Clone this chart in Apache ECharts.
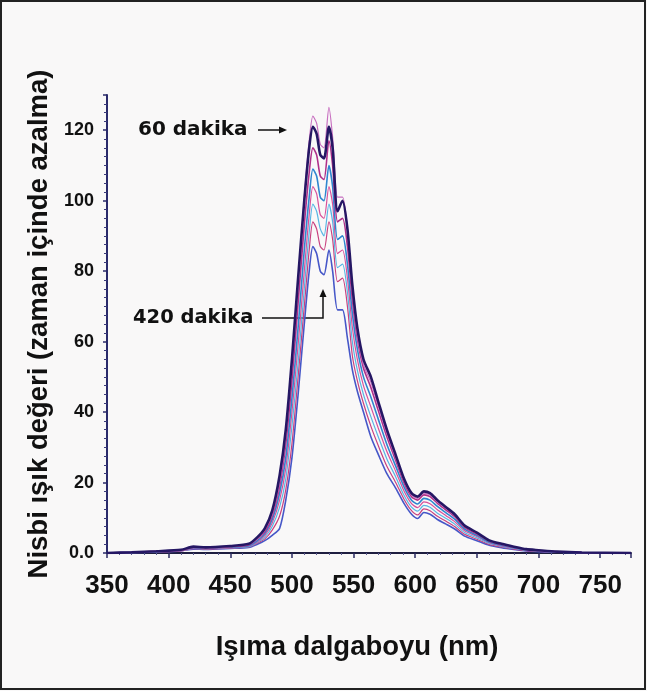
<!DOCTYPE html>
<html><head><meta charset="utf-8">
<script src="https://cdn.jsdelivr.net/npm/echarts@6/dist/echarts.min.js"></script>
<style>html,body{margin:0;padding:0;background:#f9f8f8;}#c{width:647px;height:691px;}</style>
</head><body><div id="c"></div>
<script>
// Wavelengths (nm)
const wavelengths = [350,370,390,410,420,430,450,465,472,478,484,490,495,500,505,510,514,517,520,523,526,530,533,537,541,545,549,553,558,564,570,577,584,591,597,602,607,612,618,625,632,640,650,660,670,680,690,700,715,735,775];

const s60  = [0,0.2,0.5,0.9,1.7,1.5,1.9,2.5, 4,6.5,11,20,33,53,77,101,117,124, 122,116,115,126.5,118,101,101,92, 74,62,53.5,48.5,41.7,34,27.2,20.4,16.5,15.5,17,16.5,14.6,12.6,10.7,7.6,5.6,3.5,2.5,1.7,1.05,0.75,0.4,0.15,0];
const s90  = [0,0.2,0.5,0.9,1.8,1.6,2.0,2.6, 4.5,7,12,22,35,55,78,100,115,121, 119,113,112,121,115,97,100,92, 76,64,55,50,43,35,28,21,17,16,17.5,17,15,13,11,7.8,5.8,3.6,2.6,1.8,1.1,0.8,0.4,0.15,0];
const s120 = [0,0.2,0.5,0.8,1.6,1.5,1.8,2.3, 4,6,10.5,19,31,49,71,93,108,115, 113,107,106,117,110,94,95,87, 72,61,52.5,47,40.5,33,26.4,19.8,16,15,16.5,16,14.1,12.2,10.3,7.3,5.4,3.4,2.4,1.7,1.0,0.7,0.37,0.15,0];
const s180 = [0,0.2,0.4,0.8,1.5,1.4,1.7,2.1, 3.5,5.5,9.5,17,27,44,64,86,101,109, 107,101,100,110,104,89,90,82, 68,58,50,44.3,38,30.8,24.8,18.7,15,13.9,15.5,15,13.2,11.4,9.6,6.8,5,3.1,2.2,1.5,0.9,0.65,0.33,0.13,0];
const s240 = [0,0.2,0.4,0.7,1.4,1.3,1.6,2.0, 3.2,5,8.5,15,24,40,59,80,96,104, 102,96,95,104,99,85,86,78, 64,55,47.5,41.5,35.5,28.8,23.3,17.5,14,12.9,14.5,14,12.3,10.6,8.9,6.3,4.7,2.9,2.0,1.4,0.85,0.6,0.3,0.12,0];
const s300 = [0,0.1,0.4,0.7,1.3,1.2,1.5,1.8, 3,4.5,7.5,13,21,36,54,75,91,99, 97,92,90,99,94,81,82,74, 60,52,45,38.7,33,26.7,21.7,16.3,13,11.9,13.5,13,11.3,9.8,8.2,5.8,4.3,2.7,1.9,1.3,0.8,0.5,0.27,0.11,0];
const s360 = [0,0.1,0.3,0.6,1.2,1.1,1.4,1.7, 2.8,4,6.5,10.5,18,31,50,70,86,94, 92,87,86,94,89,77,78,70, 56,49,42.5,36,30.5,24.6,20.1,15.2,12,10.8,12.5,12,10.4,9,7.5,5.3,3.9,2.4,1.7,1.1,0.7,0.45,0.23,0.1,0];
const s420 = [0,0.1,0.3,0.6,1.1,1.0,1.3,1.6, 2.5,3.5,5,7,15,27,45,65,80,87, 85,80,79,86,80,69,69,61, 52,46,40,33,28,22.5,18.5,14,11,9.8,11.5,11,9.5,8.2,6.8,4.8,3.5,2.2,1.5,1.0,0.6,0.4,0.2,0.1,0];

const xTicks = [350,400,450,500,550,600,650,700,750];
const yTicks = [0,20,40,60,80,100,120];

const seriesDefs = [
  {name:'420 dakika', data:s420, color:'#4657c8', width:1.6},
  {name:'360 dakika', data:s360, color:'#c8407f', width:1.2},
  {name:'300 dakika', data:s300, color:'#58b6e4', width:1.2},
  {name:'240 dakika', data:s240, color:'#d8509a', width:1.2},
  {name:'180 dakika', data:s180, color:'#2f86cf', width:1.6},
  {name:'120 dakika', data:s120, color:'#b0308a', width:1.6},
  {name:'60 dakika',  data:s60,  color:'#c870c0', width:1.2},
  {name:'90 dakika',  data:s90,  color:'#251764', width:2.6}
];

const chart = echarts.init(document.getElementById('c'), null, {renderer:'canvas'});
const sans = "'Liberation Sans',Arial,sans-serif";

chart.setOption({
  backgroundColor:'#f9f8f8',
  animation:false,
  grid:{left:107, right:16, top:95, bottom:138},
  xAxis:{
    type:'value', min:350, max:775, interval:50,
    axisLine:{show:true, lineStyle:{color:'#1e1e40', width:2}},
    axisTick:{show:true, length:5, lineStyle:{color:'#2a2a60', width:1.5}},
    minorTick:{show:true, splitNumber:5, length:2, lineStyle:{color:'#5a5a90'}},
    splitLine:{show:false},
    axisLabel:{margin:20, color:'#111', fontFamily:sans, fontWeight:'bold', fontSize:26,
      formatter:v => xTicks.includes(v) ? String(v) : ''},
    name:'Işıma dalgaboyu (nm)', nameLocation:'middle', nameGap:80,
    nameTextStyle:{color:'#111', fontFamily:sans, fontWeight:'bold', fontSize:27.5, padding:[0,24,0,0]}
  },
  yAxis:{
    type:'value', min:0, max:130, interval:20,
    axisLine:{show:true, lineStyle:{color:'#2a2a6a', width:2}},
    axisTick:{show:true, length:4, lineStyle:{color:'#2a2a6a', width:1.5}},
    minorTick:{show:true, splitNumber:8, length:3, lineStyle:{color:'#3a3a7a'}},
    splitLine:{show:false},
    axisLabel:{margin:13, color:'#111', fontFamily:sans, fontWeight:'bold', fontSize:18,
      formatter:v => yTicks.includes(v) ? (v===0 ? '0.0' : String(v)) : ''},
    name:'Nisbi ışık değeri (zaman içinde azalma)', nameLocation:'middle', nameGap:49, nameRotate:90,
    nameTextStyle:{color:'#111', fontFamily:sans, fontWeight:'bold', fontSize:27.5}
  },
  series: seriesDefs.map(s => ({
    name:s.name, type:'line', showSymbol:false, smooth:0.25,
    data: wavelengths.map((w,i) => [w, s.data[i]]),
    lineStyle:{color:s.color, width:s.width},
    itemStyle:{color:s.color}
  })),
  graphic:[
    {type:'rect', shape:{x:1, y:1, width:644, height:688}, style:{fill:'none', stroke:'#222', lineWidth:2}, silent:true},
    {type:'text', x:138, y:130, style:{text:'60 dakika', fontFamily:"'DejaVu Sans',sans-serif", fontWeight:'bold', fontSize:20, fill:'#111', verticalAlign:'middle'}},
    {type:'line', shape:{x1:258, y1:130, x2:281, y2:130}, style:{stroke:'#111', lineWidth:1.5}},
    {type:'polygon', shape:{points:[[287,130],[279,126.5],[279,133.5]]}, style:{fill:'#111'}},
    {type:'text', x:133, y:318, style:{text:'420 dakika', fontFamily:"'DejaVu Sans',sans-serif", fontWeight:'bold', fontSize:19.5, fill:'#111', verticalAlign:'middle'}},
    {type:'polyline', shape:{points:[[262,318],[323,318],[323,296]]}, style:{stroke:'#111', lineWidth:1.5, fill:'none'}},
    {type:'polygon', shape:{points:[[323,289],[319.5,297],[326.5,297]]}, style:{fill:'#111'}}
  ]
});
</script></body></html>
